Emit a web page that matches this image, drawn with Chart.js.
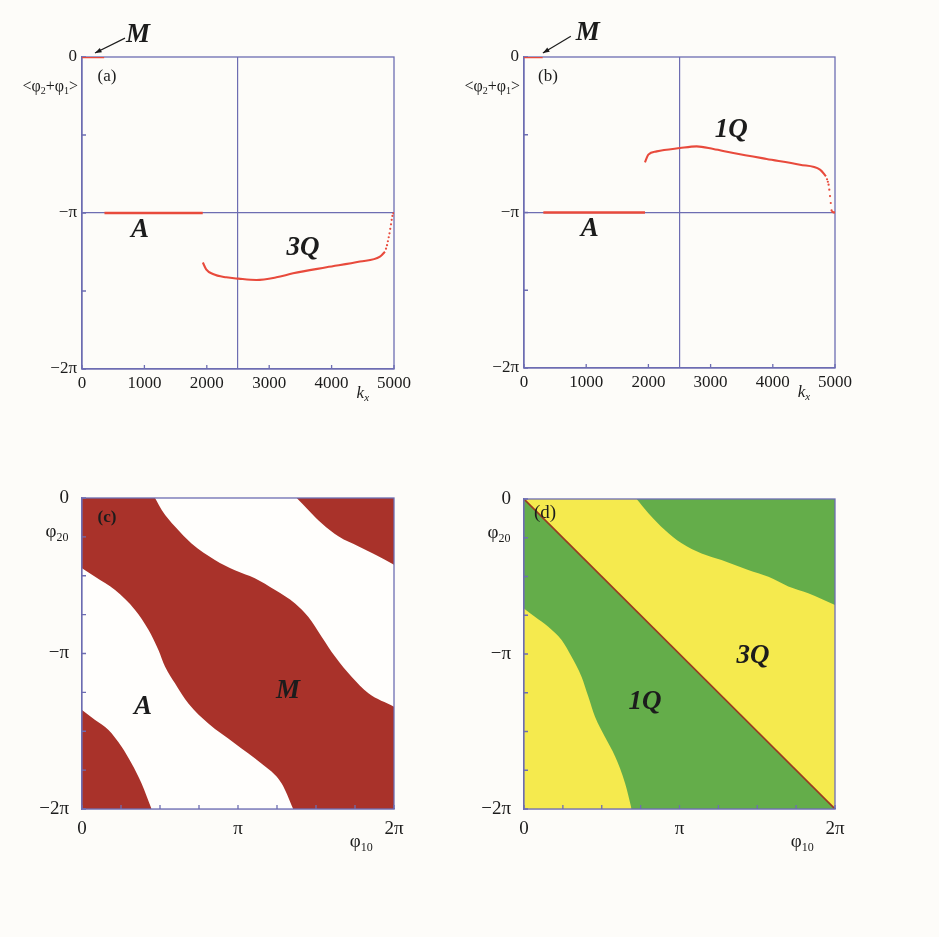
<!DOCTYPE html>
<html>
<head>
<meta charset="utf-8">
<script src="https://cdn.jsdelivr.net/npm/chart.js@4.4.1/dist/chart.umd.min.js"></script>
<style>
  html, body { margin: 0; padding: 0; background: #fdfcf9; }
  #wrap { position: relative; width: 939px; height: 937px; overflow: hidden; }
  #wrap canvas { position: absolute; }
</style>
</head>
<body>
<div id="wrap">
  <canvas id="chartA" width="440" height="440" style="left:0;top:0"></canvas>
  <canvas id="chartB" width="499" height="440" style="left:440px;top:0"></canvas>
  <canvas id="chartC" width="440" height="497" style="left:0;top:440px"></canvas>
  <canvas id="chartD" width="499" height="497" style="left:440px;top:440px"></canvas>
</div>
<script>
const PI = Math.PI;

// ---- top panels: mean phase <φ2+φ1> against kx ----
const kxTicks = [0, 1000, 2000, 2500, 3000, 4000, 5000];
const kxTickLabels = ['0', '1000', '2000', '', '3000', '4000', '5000'];
const phaseTicks = [-2 * PI, -1.5 * PI, -PI, -0.5 * PI, 0];
const phaseTickLabels = ['\u22122\u03c0', '', '\u2212\u03c0', '', '0'];

// M branch (small kx), both panels
const kxM_a = [0, 120, 240, 355];
const phaseM_a = [0, 0, 0, 0];
const kxM_b = [0, 100, 200, 300];
const phaseM_b = [0, 0, 0, 0];

// A branch, phase locked at -π
const kxA_a = [360, 800, 1200, 1600, 1935];
const phaseA_a = [-3.1416, -3.1416, -3.1416, -3.1416, -3.1416];
const kxA_b = [311, 700, 1100, 1500, 1945];
const phaseA_b = [-3.1416, -3.1416, -3.1416, -3.1416, -3.1416];

// 3Q branch (panel a)
const kx3Q = [1937, 1990, 2098, 2312, 2510, 2795, 3116, 3383, 3918, 4454, 4775, 4855];
const phase3Q = [-4.14, -4.275, -4.37, -4.437, -4.464, -4.49, -4.437, -4.356, -4.235, -4.12, -4.02, -3.92];
const kx3Qtail = [4872, 4888, 4902, 4915, 4928, 4940, 4952, 4963, 4975, 4990];
const phase3Qtail = [-3.86, -3.79, -3.71, -3.63, -3.55, -3.46, -3.37, -3.28, -3.2, -3.147];

// 1Q branch (panel b)
const kx1Q = [1945, 1999, 2133, 2508, 2776, 3044, 3365, 3901, 4437, 4759, 4855];
const phase1Q = [-2.128, -1.973, -1.907, -1.84, -1.806, -1.86, -1.94, -2.06, -2.175, -2.275, -2.41];
const kx1Qtail = [4872, 4885, 4897, 4908, 4920, 4932, 4945, 4958, 4974, 4990];
const phase1Qtail = [-2.47, -2.52, -2.58, -2.68, -2.81, -2.95, -3.1, -3.13, -3.14, -3.14];

// ---- bottom panels: phase diagrams in (φ10, φ20), units of π ----
const phiTicks = [-2, -1.75, -1.5, -1.25, -1, -0.75, -0.5, -0.25, 0];
const phiTickLabels = ['\u22122\u03c0', '', '', '', '\u2212\u03c0', '', '', '', '0'];
const phi10Ticks = [0, 0.25, 0.5, 0.75, 1, 1.25, 1.5, 1.75, 2];
const phi10TickLabels = ['0', '', '', '', '\u03c0', '', '', '', '2\u03c0'];

// (c) borders of the M band and the A regions
const mUpperX = [0.468, 0.512, 0.596, 0.702, 0.852, 0.98, 1.108, 1.238, 1.366, 1.45, 1.536, 1.622, 1.728, 1.836, 2.0];
const mUpperY = [0, -0.078, -0.184, -0.292, -0.398, -0.464, -0.516, -0.592, -0.678, -0.764, -0.892, -1.02, -1.15, -1.256, -1.342];
const mLowerX = [0, 0.084, 0.212, 0.34, 0.426, 0.49, 0.532, 0.596, 0.682, 0.81, 0.98, 1.15, 1.28, 1.354];
const mLowerY = [-0.452, -0.506, -0.592, -0.72, -0.848, -0.978, -1.084, -1.192, -1.322, -1.45, -1.578, -1.708, -1.836, -2.0];
const mCornerTRX = [1.376, 1.452, 1.538, 1.646, 1.774, 1.878, 2.0];
const mCornerTRY = [0, -0.078, -0.164, -0.248, -0.312, -0.364, -0.43];
const mCornerBLX = [0, 0.084, 0.17, 0.254, 0.318, 0.382, 0.446];
const mCornerBLY = [-1.364, -1.428, -1.492, -1.6, -1.708, -1.836, -2.0];

// (d) 1Q / 3Q borders and the separatrix φ20 = −φ10
const q1CornerX = [0.724, 0.8, 0.906, 1.014, 1.142, 1.27, 1.442, 1.572, 1.7, 1.828, 2.0];
const q1CornerY = [0, -0.092, -0.2, -0.286, -0.352, -0.394, -0.458, -0.502, -0.564, -0.608, -0.684];
const q3CornerX = [0, 0.07, 0.156, 0.242, 0.306, 0.37, 0.414, 0.456, 0.52, 0.586, 0.65, 0.692];
const q3CornerY = [-0.706, -0.76, -0.824, -0.91, -1.018, -1.146, -1.276, -1.404, -1.534, -1.662, -1.834, -2.0];
const diagX = [0, 2];
const diagY = [0, -2];

const SERIF = '"Liberation Serif", "Times New Roman", serif';
const AXIS = '#6d6db2';
const INK = '#1c1c1c';
const RED = '#e84a3c';
const MAROON = '#a9322a';
const GREEN = '#64ad4a';
const YELLOW = '#f5ea4e';
const WHITE = '#fffefc';

const pts = (xs, ys, k) => xs.map((x, i) => ({x: x * (k || 1), y: ys[i] * (k || 1)}));

// frame, inward ticks and the text notes
const framePlugin = {
  id: 'frame',
  beforeDatasetsDraw(chart, args, opts) { if (opts.behind) drawFrame(chart, opts); },
  afterDatasetsDraw(chart, args, opts) {
    if (!opts.behind) drawFrame(chart, opts);
    drawNotes(chart, opts.notes || []);
  }
};

function drawFrame(chart, opts) {
  const {ctx, chartArea: a, scales} = chart;
  ctx.save();
  ctx.strokeStyle = AXIS;
  ctx.lineWidth = 1.3;
  ctx.strokeRect(a.left, a.top, a.right - a.left, a.bottom - a.top);
  ctx.beginPath();
  scales.x.ticks.forEach(t => {
    if (t.value === opts.skipX) return;
    const px = scales.x.getPixelForValue(t.value);
    ctx.moveTo(px, a.bottom); ctx.lineTo(px, a.bottom - 4);
  });
  scales.y.ticks.forEach(t => {
    const py = scales.y.getPixelForValue(t.value);
    ctx.moveTo(a.left, py); ctx.lineTo(a.left + 4, py);
  });
  ctx.stroke();
  ctx.restore();
}

// runs: [text, subscript?]
function drawRuns(ctx, runs, x, y, align, size, style) {
  const small = Math.round(size * 0.62);
  const fontOf = r => (style || '') + ' ' + (r[1] ? small : size) + 'px ' + SERIF;
  let w = 0;
  runs.forEach(r => { ctx.font = fontOf(r); w += ctx.measureText(r[0]).width; });
  let cx = align === 'right' ? x - w : (align === 'center' ? x - w / 2 : x);
  ctx.textAlign = 'left';
  ctx.textBaseline = 'middle';
  runs.forEach(r => {
    ctx.font = fontOf(r);
    ctx.fillText(r[0], cx, r[1] ? y + size * 0.3 : y);
    cx += ctx.measureText(r[0]).width;
  });
}

function drawNotes(chart, notes) {
  const {ctx, scales} = chart;
  const px = n => [scales.x.getPixelForValue(n.x) + (n.dx || 0), scales.y.getPixelForValue(n.y) + (n.dy || 0)];
  ctx.save();
  ctx.fillStyle = INK;
  ctx.strokeStyle = INK;
  notes.forEach(n => {
    const [x, y] = px(n);
    if (n.arrow) {
      const [x2, y2] = px(n.arrow);
      const ang = Math.atan2(y2 - y, x2 - x);
      ctx.lineWidth = 1.2;
      ctx.beginPath(); ctx.moveTo(x, y); ctx.lineTo(x2, y2); ctx.stroke();
      ctx.beginPath();
      ctx.moveTo(x2, y2);
      ctx.lineTo(x2 - 7 * Math.cos(ang - 0.35), y2 - 7 * Math.sin(ang - 0.35));
      ctx.lineTo(x2 - 7 * Math.cos(ang + 0.35), y2 - 7 * Math.sin(ang + 0.35));
      ctx.closePath(); ctx.fill();
    } else {
      drawRuns(ctx, n.runs, x, y, n.align || 'center', n.size || 17, n.style);
    }
  });
  ctx.restore();
}

function baseOptions(geo, xCfg, yCfg, frame) {
  return {
    responsive: false,
    animation: false,
    events: [],
    layout: {padding: {left: 0, top: geo.top, right: geo.right, bottom: 0}},
    plugins: {legend: {display: false}, tooltip: {enabled: false}, frame: frame},
    elements: {point: {radius: 0}, line: {cubicInterpolationMode: 'monotone'}},
    scales: {
      x: Object.assign({
        type: 'linear',
        afterFit: s => { s.height = geo.xh; },
        border: {color: AXIS, width: 1.3}
      }, xCfg),
      y: Object.assign({
        type: 'linear',
        afterFit: s => { s.width = geo.yw; },
        border: {color: AXIS, width: 1.3}
      }, yCfg)
    }
  };
}

function tickFont(size) { return {family: SERIF, size: size}; }

function phaseScales(geo, notes) {
  const x = {
    min: 0, max: 5000,
    afterBuildTicks: s => { s.ticks = kxTicks.map(v => ({value: v})); },
    ticks: {autoSkip: false, maxRotation: 0, padding: 4, color: INK, font: tickFont(17),
            callback: (v, i) => kxTickLabels[i]},
    grid: {drawTicks: false, lineWidth: 1.2,
           color: c => (c.tick && c.tick.value === 2500) ? AXIS : 'transparent'}
  };
  const y = {
    min: -2 * PI, max: 0,
    afterBuildTicks: s => { s.ticks = phaseTicks.map(v => ({value: v})); },
    ticks: {autoSkip: false, padding: 5, color: INK, font: tickFont(17),
            callback: (v, i) => phaseTickLabels[i]},
    grid: {drawTicks: false, lineWidth: 1.2,
           color: c => (c.tick && Math.abs(c.tick.value + PI) < 1e-9) ? AXIS : 'transparent'}
  };
  return baseOptions(geo, x, y, {behind: true, skipX: 2500, notes: notes});
}

function mapScales(geo, notes) {
  const x = {
    min: 0, max: 2 * PI,
    afterBuildTicks: s => { s.ticks = phi10Ticks.map(v => ({value: v * PI})); },
    ticks: {autoSkip: false, maxRotation: 0, padding: 1, color: INK, font: tickFont(19),
            callback: (v, i) => phi10TickLabels[i]},
    grid: {display: false}
  };
  const y = {
    min: -2 * PI, max: 0,
    afterBuildTicks: s => { s.ticks = phiTicks.map(v => ({value: v * PI})); },
    ticks: {autoSkip: false, padding: 5, color: INK, font: tickFont(19),
            callback: (v, i) => phiTickLabels[i]},
    grid: {display: false}
  };
  return baseOptions(geo, x, y, {behind: false, notes: notes});
}

function curve(data, width) {
  return {data: data, borderColor: RED, backgroundColor: RED, borderWidth: width, pointRadius: 0, fill: false};
}
function dots(data) {
  return {data: data, showLine: false, pointRadius: 1.1, pointBackgroundColor: RED, pointBorderWidth: 0, fill: false};
}
function region(data, color, fill, order) {
  return {data: data, borderWidth: 0, borderColor: color, backgroundColor: color, pointRadius: 0, fill: fill, order: order};
}

const bold = 'italic bold';
const phaseLabel = [['<\u03c6'], ['2', true], ['+\u03c6'], ['1', true], ['>']];
const kxLabel = [['k'], ['x', true]];

// (a)
new Chart(document.getElementById('chartA'), {
  type: 'line',
  data: {datasets: [
    curve(pts(kxM_a, phaseM_a), 2.5),
    curve(pts(kxA_a, phaseA_a), 2.3),
    curve(pts(kx3Q, phase3Q), 2.1),
    dots(pts(kx3Qtail, phase3Qtail))
  ]},
  options: phaseScales({top: 57, right: 46, yw: 82, xh: 71}, [
    {x: 897, y: 0.44, runs: [['M']], size: 27, style: bold},
    {x: 689, y: 0.38, arrow: {x: 208, y: 0.08}},
    {x: 400, y: -0.4, runs: [['(a)']], size: 17},
    {x: 0, y: -0.6, dx: -4, runs: phaseLabel, size: 16, align: 'right'},
    {x: 930, y: -3.48, runs: [['A']], size: 27, style: bold},
    {x: 3542, y: -3.85, runs: [['3Q']], size: 27, style: bold},
    {x: 4500, y: -6.77, runs: kxLabel, size: 17, style: 'italic'}
  ]),
  plugins: [framePlugin]
});

// (b)
new Chart(document.getElementById('chartB'), {
  type: 'line',
  data: {datasets: [
    curve(pts(kxM_b, phaseM_b), 2.5),
    curve(pts(kxA_b, phaseA_b), 2.3),
    curve(pts(kx1Q, phase1Q), 2.1),
    dots(pts(kx1Qtail, phase1Qtail))
  ]},
  options: phaseScales({top: 57, right: 104, yw: 84, xh: 72}, [
    {x: 1026, y: 0.48, runs: [['M']], size: 27, style: bold},
    {x: 753, y: 0.42, arrow: {x: 304, y: 0.08}},
    {x: 385, y: -0.4, runs: [['(b)']], size: 17},
    {x: 0, y: -0.6, dx: -4, runs: phaseLabel, size: 16, align: 'right'},
    {x: 1058, y: -3.48, runs: [['A']], size: 27, style: bold},
    {x: 3333, y: -1.47, runs: [['1Q']], size: 27, style: bold},
    {x: 4500, y: -6.77, runs: kxLabel, size: 17, style: 'italic'}
  ]),
  plugins: [framePlugin]
});

const full = pts([0, 2], [-2, -2], PI);

// (c) M and A regions
new Chart(document.getElementById('chartC'), {
  type: 'line',
  data: {datasets: [
    region(full, MAROON, 'end', 5),
    region(pts(mUpperX, mUpperY, PI), WHITE, 'end', 4),
    region(pts(mLowerX, mLowerY, PI), WHITE, 'start', 3),
    region(pts(mCornerTRX, mCornerTRY, PI), MAROON, 'end', 2),
    region(pts(mCornerBLX, mCornerBLY, PI), MAROON, 'start', 1)
  ]},
  options: mapScales({top: 58, right: 46, yw: 82, xh: 128}, [
    {x: 0.16 * PI, y: -0.128 * PI, runs: [['(c)']], size: 17, style: 'bold'},
    {x: 0.391 * PI, y: -1.346 * PI, runs: [['A']], size: 27, style: bold},
    {x: 1.32 * PI, y: -1.244 * PI, runs: [['M']], size: 27, style: bold},
    {x: 0, y: -0.218 * PI, dx: -25, runs: [['\u03c6'], ['20', true]], size: 19},
    {x: 1.79 * PI, y: -2 * PI, dy: 33, runs: [['\u03c6'], ['10', true]], size: 19}
  ]),
  plugins: [framePlugin]
});

// (d) 1Q and 3Q regions
new Chart(document.getElementById('chartD'), {
  type: 'line',
  data: {datasets: [
    {data: pts(diagX, diagY, PI), borderColor: '#9a3a22', borderWidth: 1.6, backgroundColor: 'transparent', pointRadius: 0, fill: false, order: 0},
    region(full, GREEN, 'end', 5),
    region(pts(diagX, diagY, PI), YELLOW, 'end', 4),
    region(pts(q3CornerX, q3CornerY, PI), YELLOW, 'start', 3),
    region(pts(q1CornerX, q1CornerY, PI), GREEN, 'end', 2)
  ]},
  options: mapScales({top: 59, right: 104, yw: 84, xh: 128}, [
    {x: 0.135 * PI, y: -0.09 * PI, runs: [['(d)']], size: 19},
    {x: 0.778 * PI, y: -1.312 * PI, runs: [['1Q']], size: 27, style: bold},
    {x: 1.473 * PI, y: -1.016 * PI, runs: [['3Q']], size: 27, style: bold},
    {x: 0, y: -0.218 * PI, dx: -25, runs: [['\u03c6'], ['20', true]], size: 19},
    {x: 1.79 * PI, y: -2 * PI, dy: 33, runs: [['\u03c6'], ['10', true]], size: 19}
  ]),
  plugins: [framePlugin]
});
</script>
</body>
</html>
